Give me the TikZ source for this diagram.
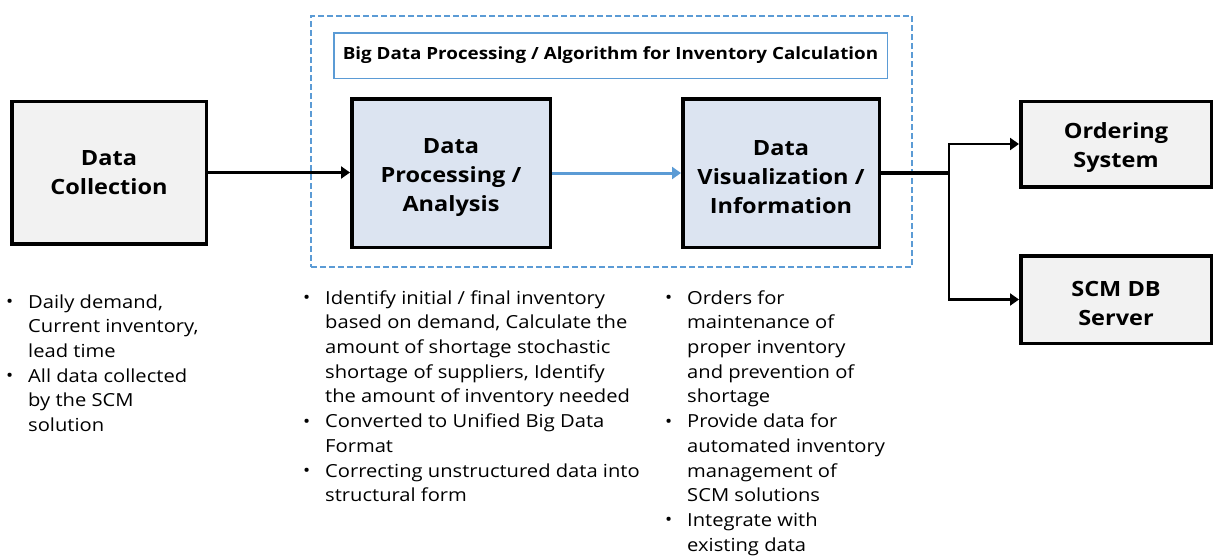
\documentclass[tikz,border=0pt]{standalone}
\usepackage{fontspec}
\setmainfont{Open Sans}[FakeStretch=1.12]
\usetikzlibrary{arrows.meta}
\definecolor{bl}{HTML}{5B9BD5}
\definecolor{gfill}{HTML}{F2F2F2}
\definecolor{bfill}{HTML}{DCE4F1}
\newcommand\mybul{\raisebox{0.5pt}{\fontsize{17}{17}\selectfont •}}
\newcommand\dn{\rule{0pt}{24pt}}
\tikzset{
  box/.style={draw=black, line width=3.5pt, inner sep=0pt, align=center,
    font=\fontsize{21}{29}\selectfont\bfseries},
  graybox/.style={box, fill=gfill},
  bluebox/.style={box, fill=bfill},
  conn/.style={draw=black, line width=2.8pt, -{Triangle[length=9pt,width=12pt]}},
  bconn/.style={draw=bl, line width=3pt, -{Triangle[length=9pt,width=12pt]}},
  notes/.style={anchor=north west, inner sep=0pt, font=\fontsize{18}{24.7}\selectfont}
}
\begin{document}
\begin{tikzpicture}[x=1pt,y=-1pt]
\useasboundingbox (0,0) rectangle (1214,557);
% frame and title
\node[draw=bl, dash pattern=on 6pt off 3pt, line width=2pt, minimum width=601pt, minimum height=251pt, inner sep=0pt] (frame) at (611.5,141.5) {};
\node[draw=bl, line width=1.5pt, minimum width=553.5pt, minimum height=45.5pt, inner sep=0pt, font=\fontsize{16.8}{20}\selectfont\bfseries] (title) at (610.5,55.5) {Big Data Processing / Algorithm for Inventory Calculation};
% boxes
\node[graybox, minimum width=194.5pt, minimum height=142.5pt] (dc) at (109,172.5) {Data\\Collection};
\node[bluebox, minimum width=198.5pt, minimum height=148.5pt] (dp) at (451,173) {\dn Data\\Processing /\\Analysis};
\node[bluebox, minimum width=196.5pt, minimum height=148.5pt] (dv) at (781,173) {\dn Data\\Visualization /\\Information};
\node[graybox, minimum width=190.5pt, minimum height=85.5pt] (os) at (1116,144) {\dn Ordering\\System};
\node[graybox, minimum width=190.5pt, minimum height=87.5pt] (scm) at (1116,299.5) {\dn SCM DB\\Server};
% connectors
\draw[conn] (dc.east) -- (dc.east -| dp.west);
\draw[bconn] (dp.east) -- (dp.east -| dv.west);
\coordinate (sp) at (949,173);
\draw[black, line width=3.5pt] (dv.east) -- (sp);
\draw[conn] (sp) |- (os.west);
\draw[conn] (sp) |- (scm.west);
% notes
\node[notes] (n1) at (6,290.7) {\begin{tabular}{@{}p{22pt}@{}l@{}}
\mybul & Daily demand,\\
 & Current inventory,\\
 & lead time\\
\mybul & All data collected\\
 & by the SCM\\
 & solution
\end{tabular}};
\node[notes] (n2) at (303,286.7) {\begin{tabular}{@{}p{22pt}@{}l@{}}
\mybul & Identify initial / final inventory\\
 & based on demand, Calculate the\\
 & amount of shortage stochastic\\
 & shortage of suppliers, Identify\\
 & the amount of inventory needed\\
\mybul & Converted to Unified Big Data\\
 & Format\\
\mybul & Correcting unstructured data into\\
 & structural form
\end{tabular}};
\node[notes] (n3) at (665,286.7) {\begin{tabular}{@{}p{22pt}@{}l@{}}
\mybul & Orders for\\
 & maintenance of\\
 & proper inventory\\
 & and prevention of\\
 & shortage\\
\mybul & Provide data for\\
 & automated inventory\\
 & management of\\
 & SCM solutions\\
\mybul & Integrate with\\
 & existing data
\end{tabular}};
\end{tikzpicture}
\end{document}
